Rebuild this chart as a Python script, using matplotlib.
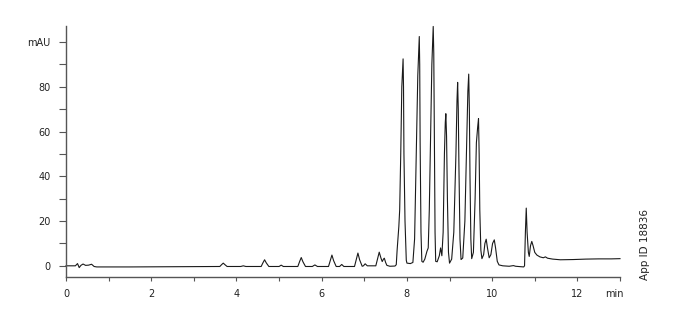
import matplotlib.pyplot as plt

# chromatogram trace (time in min, absorbance in mAU)
time = [0.00, 0.22, 0.27, 0.31, 0.35, 0.40, 0.46, 0.53, 0.60, 0.66, 0.72,
        1.50, 2.50, 3.55,
        3.61, 3.65, 3.69, 3.73, 3.78,
        4.10, 4.16, 4.22,
        4.58, 4.62, 4.66, 4.70, 4.76,
        5.00, 5.05, 5.10,
        5.44, 5.48, 5.52, 5.56, 5.62,
        5.78, 5.84, 5.90,
        6.16, 6.20, 6.24, 6.28, 6.34,
        6.42, 6.47, 6.52,
        6.77, 6.81, 6.85, 6.89, 6.95,
        6.98, 7.02, 7.07,
        7.27, 7.31, 7.35, 7.39, 7.42, 7.45, 7.47, 7.50, 7.53,
        7.60, 7.72, 7.75,
        7.77, 7.79, 7.81, 7.83, 7.855, 7.88, 7.91, 7.92, 7.93, 7.955, 7.985, 8.00,
        8.08, 8.14,
        8.18, 8.22, 8.255, 8.29, 8.30, 8.31, 8.33, 8.35,
        8.38, 8.42, 8.47, 8.50,
        8.525, 8.55, 8.585, 8.617, 8.63, 8.645, 8.66, 8.675,
        8.71, 8.76, 8.79, 8.82,
        8.85, 8.88, 8.90, 8.913, 8.93, 8.95, 8.975, 9.00,
        9.05, 9.10, 9.15, 9.175, 9.19, 9.205, 9.22, 9.245, 9.27,
        9.31, 9.36, 9.40, 9.43, 9.45, 9.465, 9.48, 9.50, 9.52,
        9.56, 9.60, 9.63, 9.66, 9.68, 9.695, 9.71, 9.735, 9.76,
        9.80, 9.83, 9.86, 9.89, 9.93,
        9.97, 10.01, 10.05, 10.08, 10.12, 10.16,
        10.25, 10.40, 10.50, 10.55, 10.74,
        10.76, 10.78, 10.80, 10.82, 10.85, 10.87,
        10.90, 10.93, 10.96, 11.00, 11.05, 11.12, 11.20, 11.25, 11.30, 11.42,
        11.60, 11.90, 12.20, 12.50, 12.80, 13.00]
signal = [0.0, 0.0, 1.0, -0.8, 0.2, 0.8, 0.2, 0.3, 0.7, -0.3, -0.5,
          -0.5, -0.4, -0.3,
          -0.3, 0.5, 1.2, 0.5, -0.3,
          -0.3, 0.0, -0.3,
          -0.3, 1.3, 2.7, 1.3, -0.3,
          -0.3, 0.3, -0.3,
          -0.3, 1.8, 3.7, 1.8, -0.3,
          -0.3, 0.4, -0.3,
          -0.3, 2.3, 4.8, 2.3, -0.3,
          -0.3, 0.6, -0.3,
          -0.3, 2.7, 5.7, 2.7, -0.2,
          0.0, 0.9, 0.0,
          0.0, 3.0, 6.1, 3.5, 1.9, 3.0, 3.4, 1.5, 0.2,
          -0.2, -0.1, 0.5,
          7.0, 12.0, 17.5, 25.0, 50.0, 80.0, 92.5, 80.0, 50.0, 20.0, 2.5, 1.2,
          1.0, 1.5,
          12.0, 50.0, 85.0, 102.5, 90.0, 55.0, 15.0, 2.0,
          1.6, 3.0, 6.5, 8.0,
          25.0, 52.0, 90.0, 107.0, 95.0, 55.0, 15.0, 2.0,
          1.8, 4.5, 8.0, 4.5,
          15.0, 50.0, 64.0, 68.0, 58.0, 30.0, 6.0, 1.2,
          3.0, 15.0, 50.0, 74.0, 82.0, 70.0, 45.0, 12.0, 2.8,
          3.5, 20.0, 52.0, 78.0, 85.7, 70.0, 40.0, 12.0, 3.2,
          6.0, 30.0, 55.0, 62.0, 65.8, 50.0, 25.0, 7.0, 3.2,
          5.0, 10.0, 11.9, 8.0, 3.6,
          5.0, 10.0, 11.6, 8.0, 2.0, 0.4,
          0.0, -0.2, 0.1, -0.2, -0.5,
          0.0, 15.0, 25.8, 15.0, 6.0, 4.2,
          9.0, 10.9, 9.0, 6.0, 4.8, 4.0, 3.6, 4.0, 3.4, 3.0,
          2.7, 2.8, 3.0, 3.1, 3.1, 3.2]

x_ticks = list(range(0, 14))
x_labels = ['0', '', '2', '', '4', '', '6', '', '8', '', '10', '', '12', '']
y_ticks = list(range(0, 101, 10))
y_labels = ['0', '', '20', '', '40', '', '60', '', '80', '', 'mAU']

fig = plt.figure(figsize=(6.77, 3.19), dpi=100)
ax = fig.add_axes([66/677, 1-277/319, (620-66)/677, (277-26)/319])

ax.plot(time, signal, color='#1a1a1a', linewidth=0.8, clip_on=False)

ax.set_xlim(0, 13)
ax.set_ylim(-5, 107.2)

for s in ['top', 'right']:
    ax.spines[s].set_visible(False)
for s in ['left', 'bottom']:
    ax.spines[s].set_color('#555555')
    ax.spines[s].set_linewidth(1.0)

ax.set_xticks(x_ticks)
ax.set_xticklabels(x_labels)
ax.set_yticks(y_ticks)
ax.set_yticklabels(y_labels)
ax.tick_params(axis='x', length=3, width=0.8, color='#555555', pad=5.5,
               labelsize=7, labelcolor='#222222')
ax.tick_params(axis='y', length=5, width=0.8, color='#555555', pad=6,
               labelsize=7, labelcolor='#222222')

ax.annotate('min', xy=(13.08, 0), xycoords=('data', 'axes fraction'),
            xytext=(0, -8.5), textcoords='offset points',
            ha='right', va='top', fontsize=7, color='#222222',
            annotation_clip=False)

fig.text(645/677, 1-245/319, 'App ID 18836', rotation=90, ha='center',
         va='center', fontsize=7.5, color='#222222')

fig.savefig('out.png', dpi=100)
